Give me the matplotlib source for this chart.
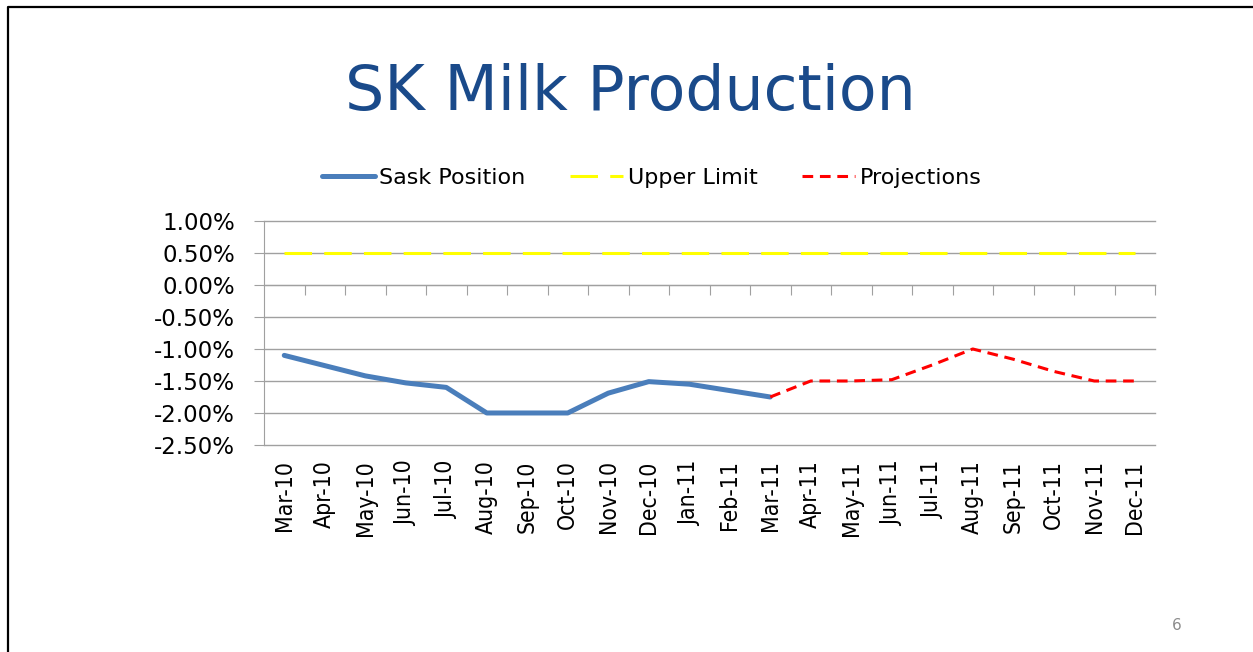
import matplotlib.pyplot as plt
from matplotlib.lines import Line2D
from matplotlib.ticker import FuncFormatter

months = ["Mar-10", "Apr-10", "May-10", "Jun-10", "Jul-10", "Aug-10", "Sep-10",
          "Oct-10", "Nov-10", "Dec-10", "Jan-11", "Feb-11", "Mar-11", "Apr-11",
          "May-11", "Jun-11", "Jul-11", "Aug-11", "Sep-11", "Oct-11", "Nov-11",
          "Dec-11"]
# values in percent
sask = [-1.10, -1.26, -1.42, -1.53, -1.60, -2.00, -2.00, -2.00, -1.69, -1.51,
        -1.55, -1.65, -1.75]
proj = [-1.75, -1.50, -1.50, -1.48, -1.25, -1.00, -1.16, -1.35, -1.50, -1.50]
upper = [0.5] * 22
proj_start = 12

grid_c = "#a0a0a0"
narrow = ["Liberation Sans Narrow", "DejaVu Sans Condensed", "DejaVu Sans"]

fig = plt.figure(figsize=(12.53, 6.52), dpi=100)
ax = fig.add_axes([0.2107, 0.3175, 0.7111, 0.3436])

x = list(range(len(months)))
ax.plot(x[:len(sask)], sask, color="#4a7ebb", lw=3.6, solid_capstyle="round",
        label="Sask Position", zorder=3)
ax.plot(x, upper, color="#ffff00", lw=2.2, dashes=(9, 4), label="Upper Limit",
        zorder=3)
ax.plot(x[proj_start:proj_start + len(proj)], proj, color="#ff0000", lw=2.2,
        dashes=(3.5, 2.2), label="Projections", zorder=4)

ax.set_xlim(-0.5, len(months) - 0.5)
ax.set_ylim(-2.5, 1.0)
ax.set_yticks([1.0, 0.5, 0.0, -0.5, -1.0, -1.5, -2.0, -2.5])
ax.yaxis.set_major_formatter(FuncFormatter(lambda v, p: "%.2f%%" % v))
ax.grid(axis="y", color=grid_c, lw=1.0)
for gl in ax.get_ygridlines():
    gl.set_clip_on(False)
ax.set_axisbelow(True)
for s in ["top", "right"]:
    ax.spines[s].set_visible(False)
ax.spines["left"].set_color(grid_c)
ax.spines["bottom"].set_position(("data", 0))
ax.spines["bottom"].set_color(grid_c)
ax.tick_params(axis="y", colors=grid_c, length=7, labelsize=16.5,
               labelcolor="black", pad=14)

# tick marks between categories on the zero line
ax.set_xticks([i + 0.5 for i in x[:-1]] + [len(months) - 0.5])
ax.tick_params(axis="x", colors=grid_c, length=7, labelbottom=False)

# category labels at the bottom
sec = ax.secondary_xaxis("bottom")
sec.set_xticks(x)
sec.set_xticklabels(months, rotation=90, family=narrow, fontstretch="condensed",
                    fontsize=16.5)
sec.tick_params(length=0, pad=11)
sec.spines["bottom"].set_visible(False)

fig.legend(loc="center", bbox_to_anchor=(0.52, 0.727), ncol=3, frameon=False,
           fontsize=16, handlelength=2.4, handletextpad=0.2, columnspacing=2.0)

fig.text(0.503, 0.858, "SK Milk Production", ha="center", va="center",
         fontsize=44.5, color="#1a4a8a")
fig.text(0.939, 0.04, "6", ha="center", va="center", fontsize=11, color="#8c8c8c")

# slide border (left and top edges)
fig.add_artist(Line2D([0.0065, 0.0065, 1.0], [0.0, 0.9885, 0.9885],
                      transform=fig.transFigure, color="black", lw=1.6))

fig.savefig("out.png", dpi=100)
